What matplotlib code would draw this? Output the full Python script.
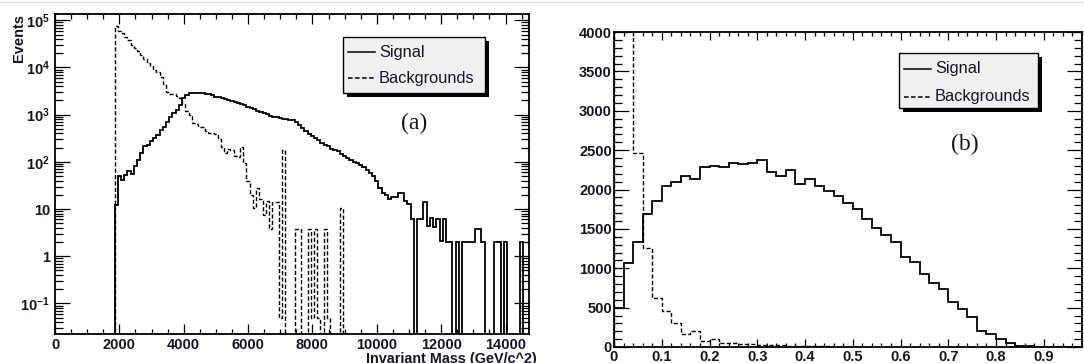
import numpy as np
import matplotlib
matplotlib.use('Agg')
import matplotlib.pyplot as plt
from matplotlib.patches import Rectangle
from matplotlib.lines import Line2D
from matplotlib.ticker import (FixedLocator, FixedFormatter, MultipleLocator,
                               LogLocator, NullFormatter, FuncFormatter)

plt.rcParams['font.family'] = ['Liberation Sans', 'DejaVu Sans']
plt.rcParams['font.weight'] = 'bold'
plt.rcParams['mathtext.fontset'] = 'custom'
plt.rcParams['mathtext.rm'] = 'Liberation Sans'
plt.rcParams['mathtext.bf'] = 'Liberation Sans:bold'

# ---------------- data: panel (a) invariant mass, 100 GeV bins ----------------
mass_first_edge = 1850
mass_bin_width = 100
signal_mass = [
    12, 49, 42, 53, 63, 55, 80, 110, 153, 212,
    230, 270, 318, 375, 475, 560, 715, 910, 1070, 1260,
    1610, 2220, 2620, 2850, 2900, 2920, 2880, 2850, 2780, 2700,
    2560, 2420, 2340, 2280, 2150, 2080, 1950, 1900, 1780, 1700,
    1580, 1480, 1400, 1290, 1220, 1120, 1060, 1010, 950, 905,
    880, 850, 815, 800, 780, 755, 690, 600, 530, 455,
    390, 355, 320, 295, 255, 230, 212, 190, 178, 166,
    145, 130, 120, 108, 100, 94, 84, 76, 68, 57,
    49, 40, 28, 22, 20, 16, 18, 18, 22, 22,
    14.6, 13, 6, 0, 6, 6, 14, 4.3, 6.5, 4.2,
    6, 2.1, 6, 2, 2, 0, 2, 0, 2, 2,
    2, 2, 3.8, 3.8, 2, 0, 0, 0, 2, 2,
    0, 2, 0, 0, 0, 0, 2, 0, 0,
]
background_mass = [
    76000, 60000, 55000, 45000, 38000, 30000, 26000, 22000, 18000, 15000,
    12500, 10500, 8900, 8000, 6400, 4500, 3000, 2800, 2700, 2500,
    2300, 1700, 1200, 1000, 680, 620, 560, 560, 450, 410,
    400, 380, 300, 210, 155, 190, 180, 130, 125, 210,
    94, 40, 20, 10.7, 28, 16, 7.6, 14.5, 3.7, 14,
    14, 0.05, 180, 0, 0, 0, 3.7, 3.7, 0, 0,
    3.7, 0.05, 3.7, 0.05, 0, 3.7, 0.05, 0, 0, 0,
    10.5, 0,
]
mass_ticks = [0.1, 1, 10, 100, 1e3, 1e4, 1e5]
mass_tick_labels = [r'$\mathbf{10^{-1}}$', '1', '10', r'$\mathbf{10^{2}}$',
                    r'$\mathbf{10^{3}}$', r'$\mathbf{10^{4}}$', r'$\mathbf{10^{5}}$']

# ---------------- data: panel (b), 0.02 bins ----------------
b_bin_width = 0.02
signal_b = [
    500, 1067, 1337, 1690, 1858, 2049, 2100, 2176, 2134, 2290,
    2303, 2282, 2341, 2324, 2341, 2379, 2227, 2172, 2248, 2066,
    2134, 2045, 1985, 1918, 1825, 1748, 1621, 1507, 1416, 1327,
    1139, 1084, 927, 817, 732, 567, 483, 377, 203, 165,
    102, 47, 17, 17, 0, 0, 0, 0, 0,
]
background_b = [
    20000, 16000, 2460, 1253, 618, 461, 301, 165, 207, 80,
    98, 55, 45, 38, 35, 30, 25, 20, 18, 15,
    12, 10, 8, 6, 5, 4, 3, 2, 2, 1,
    0, 0, 0, 0, 0, 0, 0, 0, 0, 0,
    0, 0, 0, 0, 0, 0, 0, 0, 0,
]

# ---------------- figure ----------------
W, H = 1084, 363
fig = plt.figure(figsize=(W / 100, H / 100), dpi=100)
TXT = '#15152a'


def fx(x):
    return x / W


def fy(y):
    return 1 - y / H


def axes_px(l, t, r, b):
    return fig.add_axes([fx(l), fy(b), (r - l) / W, (b - t) / H])


ax1 = axes_px(55, 14, 529, 333.5)
ax2 = axes_px(614, 32, 1082, 347)

# panel (a)
sig_edges = mass_first_edge + mass_bin_width * np.arange(len(signal_mass) + 1)
bg_edges = mass_first_edge + mass_bin_width * np.arange(len(background_mass) + 1)
ax1.set_yscale('log', nonpositive='clip')
ax1.stairs(signal_mass, sig_edges, baseline=1e-4, color='black', lw=1.3)
ax1.stairs(background_mass, bg_edges, baseline=1e-4, color='black', lw=1.0,
           linestyle=(0, (3, 1.6)))
ax1.set_xlim(0, 14730)
ax1.set_ylim(0.023, 1.36e5)
ax1.xaxis.set_major_locator(MultipleLocator(2000))
ax1.xaxis.set_minor_locator(MultipleLocator(500))
ax1.yaxis.set_major_locator(FixedLocator(mass_ticks))
ax1.yaxis.set_major_formatter(FixedFormatter(mass_tick_labels))
ax1.yaxis.set_minor_locator(LogLocator(base=10, subs=np.arange(2, 10), numticks=30))
ax1.yaxis.set_minor_formatter(NullFormatter())
ax1.tick_params(axis='x', which='major', length=7.5, pad=3)
ax1.tick_params(axis='x', which='minor', length=3.5)
ax1.tick_params(axis='y', which='major', length=10.5, pad=3.5)
ax1.tick_params(axis='y', which='minor', length=5.5)

# panel (b)
b_edges = b_bin_width * np.arange(len(signal_b) + 1)
ax2.stairs(signal_b, b_edges, baseline=0, color='black', lw=1.3)
ax2.stairs(background_b, b_edges, baseline=0, color='black', lw=1.0,
           linestyle=(0, (3, 1.6)))
ax2.set_xlim(0, 0.98)
ax2.set_ylim(0, 4000)
ax2.xaxis.set_major_locator(MultipleLocator(0.1))
ax2.xaxis.set_minor_locator(MultipleLocator(0.02))
ax2.yaxis.set_major_locator(MultipleLocator(500))
ax2.yaxis.set_minor_locator(MultipleLocator(100))
ax2.xaxis.set_major_formatter(FuncFormatter(lambda v, p: f'{v:g}'))
ax2.yaxis.set_major_formatter(FuncFormatter(lambda v, p: f'{v:g}'))
ax2.tick_params(axis='x', which='major', length=6, pad=2)
ax2.tick_params(axis='x', which='minor', length=3)
ax2.tick_params(axis='y', which='major', length=10.5, pad=1.5)
ax2.tick_params(axis='y', which='minor', length=5.5)

for ax in (ax1, ax2):
    ax.tick_params(which='both', direction='in', top=True, right=True,
                   width=0.9, color='black', labelsize=10.5, labelcolor=TXT)
    for s in ax.spines.values():
        s.set_linewidth(1.3)
    for lbl in ax.get_xticklabels() + ax.get_yticklabels():
        lbl.set_fontweight('bold')

# axis titles
fig.text(fx(18.5), fy(13.5), 'Events', rotation=90, ha='center', va='top',
         fontsize=10.5, fontweight='bold', color=TXT)
fig.text(fx(537), fy(351.5), 'Invariant Mass (GeV/c^2)', ha='right', va='top',
         fontsize=10.4, fontweight='bold', color=TXT)

# panel tags
fig.text(fx(414), fy(123), '(a)', ha='center', va='center', fontsize=17,
         family='Liberation Serif', fontweight='normal', color=TXT)
fig.text(fx(965), fy(144), '(b)', ha='center', va='center', fontsize=17,
         family='Liberation Serif', fontweight='normal', color=TXT)


# ROOT-style legends with shadow
def legend_box(l, t, r, b, y1, y2, shadow=4):
    fig.patches.append(Rectangle((fx(l + shadow), fy(b + shadow)), (r - l) / W, (b - t) / H,
                                 transform=fig.transFigure, facecolor='black',
                                 edgecolor='black', lw=0))
    fig.patches.append(Rectangle((fx(l), fy(b)), (r - l) / W, (b - t) / H,
                                 transform=fig.transFigure, facecolor='#f0f0f0',
                                 edgecolor='black', lw=1.0))
    for yy, ls, lab in ((y1, '-', 'Signal'), (y2, (0, (3, 1.6)), 'Backgrounds')):
        fig.lines.append(Line2D([fx(l + 5), fx(l + 32)], [fy(yy), fy(yy)],
                                transform=fig.transFigure, color='black',
                                lw=1.1, linestyle=ls))
        fig.text(fx(l + 36), fy(yy), lab, ha='left', va='center', fontsize=11.8,
                 fontweight='normal', color=TXT)


legend_box(343, 37, 485, 93, 52, 78, shadow=4)
legend_box(899, 53, 1038, 108, 69, 97, shadow=4)

# faint top border line seen in the screenshot
fig.lines.append(Line2D([0, 1], [fy(1.5), fy(1.5)], transform=fig.transFigure,
                        color='#e2e2e2', lw=1.0))

fig.savefig('out.png', dpi=100, facecolor='white')
